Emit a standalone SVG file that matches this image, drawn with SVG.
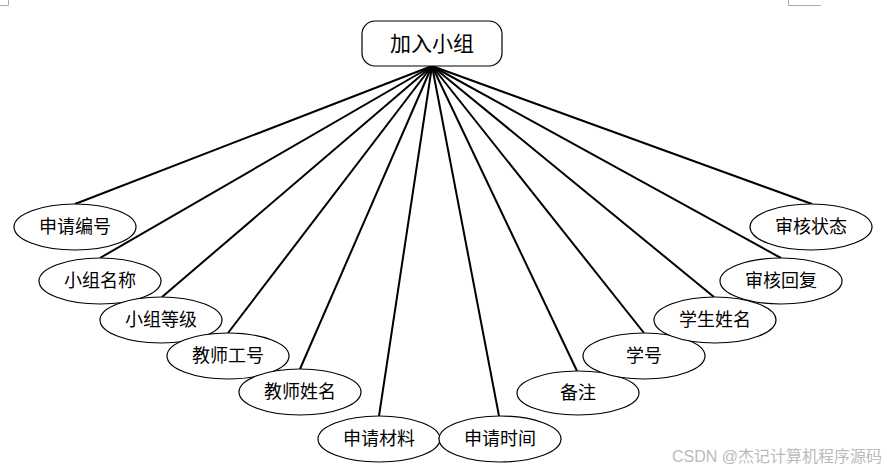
<svg xmlns="http://www.w3.org/2000/svg" width="887" height="470" viewBox="0 0 887 470">
<style>
.n ellipse{fill:#fff;stroke:#000;stroke-width:1.2}
.t{font-family:"Liberation Serif","Noto Sans CJK SC",serif;font-size:18px;fill:#000;text-anchor:middle;dominant-baseline:central}
#edges line{stroke:#000;stroke-width:2}
.mark{stroke:#aaa;stroke-width:1;fill:none}
</style>
<rect width="887" height="470" fill="#fff"/>
<path class="mark" d="M0 5.5H8.5V0M788.5 0V5.5H821"/>
<g id="edges">
<line x1="432" y1="66" x2="75" y2="204"/>
<line x1="432" y1="66" x2="100" y2="258"/>
<line x1="432" y1="66" x2="162" y2="297"/>
<line x1="432" y1="66" x2="228" y2="333"/>
<line x1="432" y1="66" x2="300" y2="369"/>
<line x1="432" y1="66" x2="379" y2="416"/>
<line x1="432" y1="66" x2="499" y2="416"/>
<line x1="432" y1="66" x2="577" y2="371"/>
<line x1="432" y1="66" x2="644" y2="333"/>
<line x1="432" y1="66" x2="714" y2="297"/>
<line x1="432" y1="66" x2="781" y2="258"/>
<line x1="432" y1="66" x2="812" y2="204"/>
</g>
<g id="root" class="n">
<rect x="362" y="21" width="140" height="45" rx="13" fill="#fff" stroke="#000" stroke-width="1.2"/>
<text class="t" x="432" y="44" style="font-size:21px">加入小组</text>
</g>
<g id="n1" class="n"><ellipse cx="75" cy="227" rx="61" ry="23"/><text class="t" x="75" y="227">申请编号</text></g>
<g id="n2" class="n"><ellipse cx="100" cy="281" rx="61" ry="23"/><text class="t" x="100" y="281">小组名称</text></g>
<g id="n3" class="n"><ellipse cx="161" cy="320" rx="61" ry="23"/><text class="t" x="161" y="320">小组等级</text></g>
<g id="n4" class="n"><ellipse cx="228" cy="356" rx="61" ry="23"/><text class="t" x="228" y="356">教师工号</text></g>
<g id="n5" class="n"><ellipse cx="300" cy="392" rx="61" ry="23"/><text class="t" x="300" y="392">教师姓名</text></g>
<g id="n6" class="n"><ellipse cx="379" cy="439" rx="61" ry="23"/><text class="t" x="379" y="439">申请材料</text></g>
<g id="n7" class="n"><ellipse cx="500" cy="439" rx="61" ry="23"/><text class="t" x="500" y="439">申请时间</text></g>
<g id="n8" class="n"><ellipse cx="578" cy="393" rx="61" ry="22"/><text class="t" x="578" y="393">备注</text></g>
<g id="n9" class="n"><ellipse cx="644" cy="356" rx="61" ry="23"/><text class="t" x="644" y="356">学号</text></g>
<g id="n10" class="n"><ellipse cx="715" cy="320" rx="61" ry="23"/><text class="t" x="715" y="320">学生姓名</text></g>
<g id="n11" class="n"><ellipse cx="781" cy="281" rx="61" ry="23"/><text class="t" x="781" y="281">审核回复</text></g>
<g id="n12" class="n"><ellipse cx="811" cy="227" rx="61" ry="23"/><text class="t" x="811" y="227">审核状态</text></g>
<text x="882" y="456" style="font-family:'Liberation Sans','Noto Sans CJK SC',sans-serif;font-size:16px;fill:#bbb;text-anchor:end;dominant-baseline:central">CSDN @杰记计算机程序源码</text>
</svg>
